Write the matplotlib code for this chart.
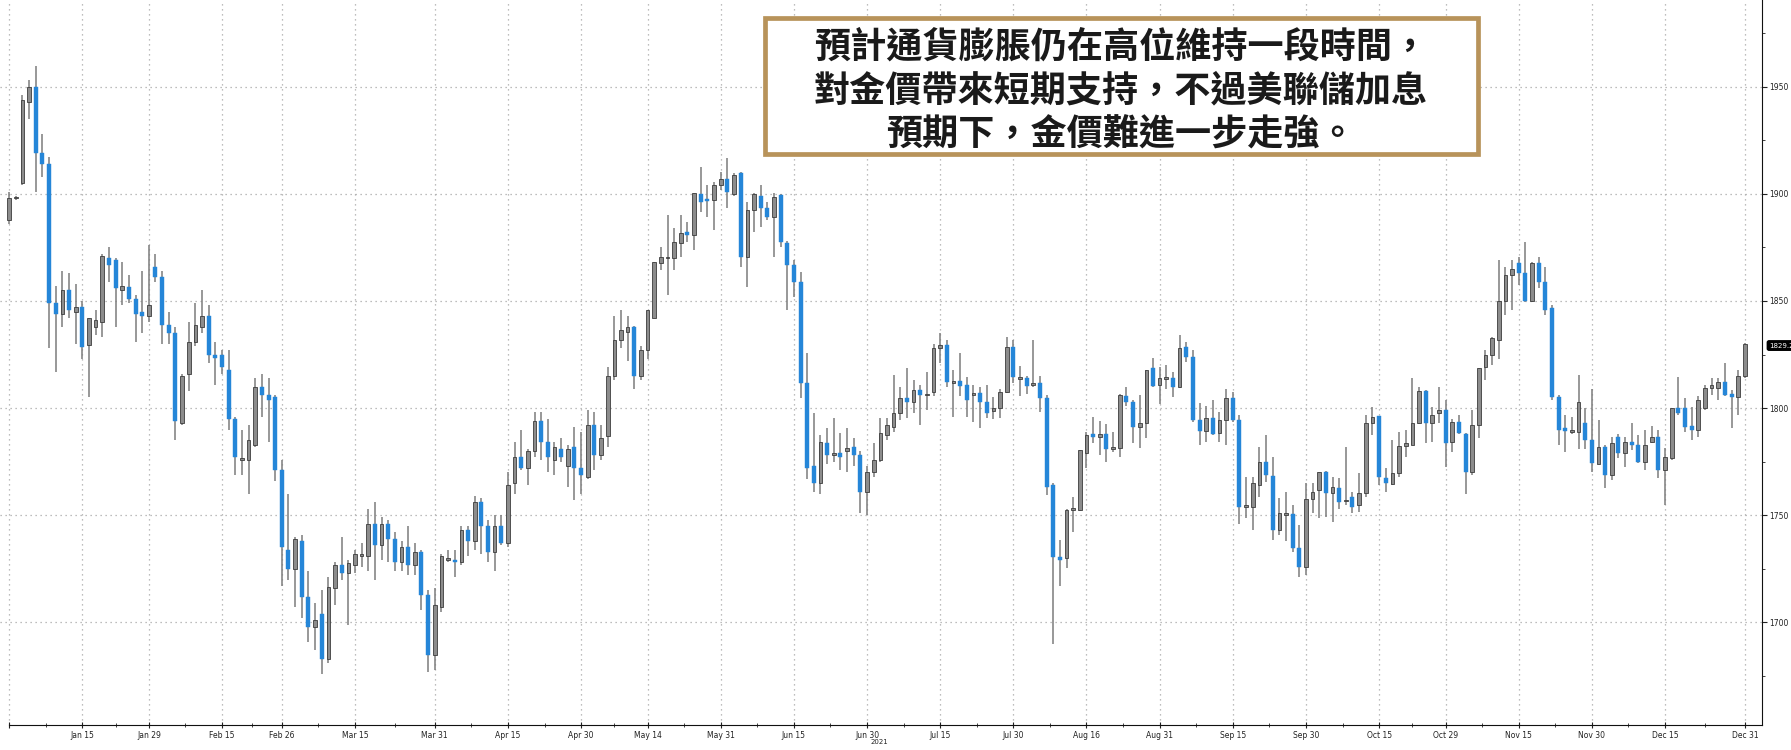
import numpy as np
import pandas as pd
import matplotlib
matplotlib.use("Agg")
import matplotlib.pyplot as plt
from matplotlib.patches import Rectangle
from matplotlib import transforms

# 交易日 (weekdays, 2020-12-31 .. 2021-12-31)
dates = pd.bdate_range("2020-12-31", "2021-12-31")

# OHLC, one block per month
opens = [
    1888, 1898, 1905, 1943, 1950, 1919, 1914, 1849, 1844, 1855, 1845, 1847, 1829.5, 1838, 1840, 1870, 1869, 1855, 1856.6, 1851, 1845, 1843,
    1866, 1861, 1839, 1835, 1793, 1816, 1831, 1838, 1843, 1825, 1825, 1818, 1795, 1776, 1776, 1783, 1810, 1806, 1805, 1771,
    1734, 1725, 1738, 1712, 1698, 1704, 1683, 1716, 1727, 1723, 1727, 1731, 1731, 1746, 1736, 1746, 1739, 1728, 1735, 1727, 1733, 1713, 1685,
    1707, 1729, 1729, 1728, 1743, 1738, 1756, 1745, 1733, 1745, 1737, 1765, 1777, 1772, 1780, 1794, 1784, 1776, 1781, 1773, 1782, 1772,
    1768, 1792, 1778, 1787, 1815, 1831.7, 1835.6, 1838, 1815, 1827, 1842, 1867.6, 1870, 1870, 1877, 1882, 1881, 1900, 1897.5, 1897, 1904,
    1906.8, 1900, 1909.6, 1870.6, 1892.4, 1899, 1893.4, 1889, 1899.4, 1877, 1866.7, 1859, 1811.6, 1773, 1765, 1783.6, 1778, 1779, 1780, 1782, 1778, 1761,
    1770, 1775.8, 1787.4, 1791, 1797.6, 1804.6, 1803, 1808.4, 1806, 1807.6, 1828, 1829.4, 1812, 1812.7, 1810.8, 1806, 1807, 1803, 1798.5, 1800, 1807.6, 1828.6,
    1813.5, 1814, 1811, 1811.8, 1804.6, 1764, 1730.6, 1730, 1752.5, 1752.5, 1779, 1788, 1786.6, 1788, 1781, 1781.3, 1805.6, 1803, 1791, 1793, 1818.6, 1810.8,
    1814, 1814, 1809.9, 1828.6, 1824, 1794.5, 1789.5, 1795.4, 1788.3, 1794.5, 1804.6, 1794.5, 1754, 1754, 1764, 1775, 1768.3, 1743, 1750.3, 1750.6, 1734.6, 1726,
    1757.5, 1761.7, 1770, 1760.4, 1762.6, 1756.5, 1758.5, 1754.7, 1760.4, 1793, 1796.3, 1767.5, 1764.6, 1769.7, 1782.3, 1783, 1793, 1808, 1793, 1797.6, 1799,
    1784.3, 1793.6, 1788, 1770, 1792, 1819, 1824.7, 1831.7, 1850, 1862, 1867.6, 1863, 1850, 1867.6, 1859, 1846.7, 1805, 1790.5, 1789, 1789, 1793, 1785,
    1774, 1782, 1768.7, 1786.6, 1779, 1784.3, 1783, 1775, 1784.3, 1786.6, 1771, 1776.6, 1800, 1800, 1791.6, 1790, 1800, 1809.3, 1809.3, 1812, 1806.5, 1805, 1815,
]
highs = [
    1901, 1899, 1946, 1953, 1959.5, 1928, 1917, 1857, 1864, 1863, 1858, 1850, 1842, 1846, 1872, 1875, 1870, 1868, 1862, 1853, 1864, 1876,
    1872, 1864, 1845, 1838, 1816, 1840, 1849, 1855, 1848, 1831, 1827, 1827, 1796, 1790, 1792, 1814, 1816, 1814, 1806, 1776,
    1760, 1740, 1741, 1724, 1709, 1715, 1721, 1728, 1740, 1729, 1734, 1737, 1753, 1756, 1749, 1748, 1742, 1738, 1745, 1737, 1734, 1715, 1716,
    1732, 1734, 1734, 1745, 1745, 1759, 1758, 1748, 1750, 1750, 1770, 1784, 1790, 1781, 1798, 1798, 1795, 1784, 1786, 1783, 1791, 1789,
    1799, 1798, 1792, 1819, 1843, 1846, 1843, 1838.5, 1829, 1846, 1868, 1875, 1890, 1884, 1890, 1887, 1900.3, 1912.6, 1904, 1905.5, 1910,
    1916.6, 1909.6, 1910, 1896, 1900.5, 1904, 1896, 1900.3, 1900, 1878, 1869, 1863.6, 1825.6, 1797.6, 1787.5, 1790.6, 1795.3, 1788.4, 1790.6, 1786, 1780, 1773,
    1783.6, 1795.5, 1795.5, 1815.5, 1810, 1818.6, 1813, 1811, 1817, 1830, 1835, 1832, 1817.7, 1825.6, 1814.6, 1811, 1810, 1811, 1805, 1809, 1833, 1831.7,
    1819.6, 1815, 1832, 1815, 1806, 1765, 1738.4, 1753, 1758.6, 1780.5, 1789, 1795.9, 1794, 1792.6, 1789, 1806.5, 1810, 1804, 1806, 1818, 1823.4, 1819,
    1820, 1817, 1834, 1831, 1827, 1802.2, 1801, 1804, 1798, 1808.7, 1807.5, 1797, 1768, 1768, 1782, 1787.5, 1777, 1758, 1761, 1754.7, 1745.4, 1765,
    1765, 1770, 1770.5, 1768, 1767.4, 1782, 1761, 1769.6, 1796.8, 1800.6, 1796.3, 1772, 1785, 1789, 1789.7, 1814, 1810, 1808.5, 1800.6, 1810, 1803.8,
    1795, 1797, 1788.5, 1799, 1818.5, 1827, 1833, 1869, 1866, 1869, 1870.6, 1877.6, 1868, 1870.6, 1866, 1848, 1806, 1797, 1796, 1815.5, 1800, 1809,
    1794.5, 1783, 1786.5, 1788, 1786.5, 1793, 1787.6, 1789.7, 1791.6, 1789.7, 1781.3, 1800, 1814.5, 1804.6, 1800.6, 1805.5, 1810.8, 1814, 1814, 1821, 1808.5, 1818, 1830.5,
]
lows = [
    1886, 1897, 1904, 1935, 1901, 1908, 1828, 1817, 1838, 1842, 1830, 1823, 1805, 1834, 1833, 1859, 1838, 1848, 1849, 1831, 1835, 1840,
    1859, 1830, 1830, 1785, 1792, 1808, 1829, 1835, 1821, 1811, 1816, 1790, 1769, 1769, 1760, 1782, 1796, 1784, 1766, 1717,
    1720, 1707, 1702, 1691, 1687, 1676, 1681, 1708, 1720, 1699, 1723, 1726, 1724, 1720, 1729, 1728, 1724, 1724, 1722, 1722, 1706, 1677, 1678,
    1705, 1728, 1721, 1727, 1731, 1734, 1732, 1728, 1724, 1736, 1735, 1760, 1771, 1764, 1777, 1776, 1770, 1769, 1775, 1763, 1757, 1760,
    1767, 1771, 1776, 1782, 1813, 1828, 1822, 1809, 1813, 1823, 1842, 1864.5, 1853, 1864.5, 1870.6, 1877.5, 1874, 1891.5, 1889, 1883, 1902,
    1893.4, 1899, 1866, 1856.5, 1882, 1884.6, 1887.8, 1870.6, 1875, 1845.8, 1852, 1804.6, 1767, 1761, 1760, 1774, 1775, 1771, 1770, 1773, 1751, 1750,
    1768, 1775, 1785, 1789, 1794.5, 1795.4, 1797.6, 1792, 1799, 1805.5, 1821, 1809.8, 1796, 1805.5, 1796, 1793.6, 1790.6, 1795.5, 1795, 1795.4, 1807, 1811.8,
    1805.5, 1806.5, 1810, 1798, 1759.4, 1690, 1717, 1725.4, 1742, 1752, 1772, 1783.6, 1778, 1775, 1779.5, 1777, 1801, 1783.6, 1781.3, 1786, 1810, 1802,
    1809, 1805, 1809.5, 1821.6, 1793.5, 1783, 1784.3, 1787.5, 1784.3, 1782.6, 1793.5, 1746, 1748.7, 1743, 1758.6, 1765.5, 1738.4, 1741, 1738, 1733, 1721, 1722,
    1751, 1748.6, 1749.3, 1747, 1752.8, 1755, 1751, 1751.5, 1758.5, 1787.5, 1764, 1761, 1764, 1768, 1777, 1783, 1792.5, 1783.6, 1784, 1793, 1772.5,
    1779.6, 1788, 1760, 1769, 1786, 1813, 1820, 1823, 1843.4, 1845.8, 1857.5, 1849.5, 1849.5, 1855.9, 1843.4, 1804, 1783, 1779.6, 1788, 1781, 1781, 1770,
    1774, 1762.7, 1766.4, 1776.6, 1772.6, 1780.5, 1774.5, 1771, 1783.5, 1767.4, 1754.7, 1776, 1797, 1789, 1785, 1786.5, 1799, 1806, 1803.8, 1805.5, 1790.7, 1796.6, 1814,
]
closes = [
    1898, 1898.5, 1944, 1950, 1919, 1914, 1849, 1844, 1855, 1846, 1847, 1828.5, 1842, 1841, 1871, 1867, 1856, 1857, 1851, 1844, 1843, 1848,
    1861, 1839, 1835, 1794, 1815, 1831, 1839, 1843, 1825, 1823.5, 1819, 1795, 1777, 1776.5, 1785, 1810, 1806, 1804, 1771, 1735,
    1725, 1739, 1712, 1698, 1701, 1683, 1716.5, 1727, 1723, 1727.5, 1732, 1732, 1746, 1736, 1746, 1739, 1728, 1735, 1727, 1733, 1713, 1685, 1708,
    1731, 1730, 1728, 1743, 1738, 1756, 1745, 1733, 1745, 1737, 1764, 1777, 1772, 1780, 1794, 1784, 1777, 1782, 1777, 1781, 1772, 1769,
    1792, 1778, 1786, 1815, 1831.7, 1836.5, 1838, 1815, 1827, 1845.7, 1868, 1870.6, 1870.5, 1877.5, 1881.6, 1881, 1900.3, 1896.2, 1897, 1904, 1906.8,
    1900.8, 1908.8, 1870.6, 1892.4, 1900, 1893.4, 1889, 1898.6, 1877.5, 1866.7, 1859, 1811.6, 1772, 1765, 1784, 1778, 1779, 1777, 1781.5, 1778, 1761, 1770,
    1776, 1788.4, 1792, 1797.6, 1804.6, 1803, 1808.4, 1806, 1806.8, 1828, 1829.4, 1812, 1812.3, 1810.3, 1804, 1807, 1803, 1797.6, 1800, 1807.6, 1828.6, 1814.6,
    1814.4, 1810.3, 1811.8, 1804.6, 1763.4, 1730.6, 1729, 1752.5, 1753, 1780.5, 1787.4, 1786.6, 1788, 1781, 1781.5, 1806, 1803, 1791, 1793, 1817.7, 1810.3, 1814,
    1814.2, 1809.9, 1828, 1824, 1794.5, 1789.5, 1795.4, 1788, 1794.5, 1804.6, 1794.5, 1754, 1754.6, 1765, 1775, 1768.8, 1743, 1751, 1750.8, 1734.6, 1726, 1757.5,
    1761, 1770, 1760.3, 1763, 1756, 1757.3, 1754, 1760.4, 1793, 1796, 1768, 1765, 1769.6, 1782.3, 1783.6, 1793, 1808, 1793, 1796.8, 1799, 1783.6,
    1793.6, 1788.3, 1770, 1792, 1818.5, 1824.7, 1832.6, 1850, 1862, 1865, 1863, 1850, 1867.6, 1859, 1845.8, 1805, 1789.7, 1789.5, 1789.3, 1803, 1785, 1774.3,
    1782, 1768.8, 1783.6, 1779, 1784.3, 1783, 1775, 1783, 1786.6, 1771, 1777, 1800, 1797.6, 1791.4, 1790, 1803.8, 1809.3, 1810.8, 1812, 1806, 1805, 1815, 1830,
]

tick_dates = ["2021-01-15", "2021-01-29", "2021-02-15", "2021-02-26", "2021-03-15", "2021-03-31",
              "2021-04-15", "2021-04-30", "2021-05-14", "2021-05-31", "2021-06-15", "2021-06-30",
              "2021-07-15", "2021-07-30", "2021-08-16", "2021-08-31", "2021-09-15", "2021-09-30",
              "2021-10-15", "2021-10-29", "2021-11-15", "2021-11-30", "2021-12-15", "2021-12-31"]
tick_labels = ["Jan 15", "Jan 29", "Feb 15", "Feb 26", "Mar 15", "Mar 31", "Apr 15", "Apr 30",
               "May 14", "May 31", "Jun 15", "Jun 30", "Jul 15", "Jul 30", "Aug 16", "Aug 31",
               "Sep 15", "Sep 30", "Oct 15", "Oct 29", "Nov 15", "Nov 30", "Dec 15", "Dec 31"]
y_ticks = [1700, 1750, 1800, 1850, 1900, 1950]
last_price = "1829.2"

note_lines = ["預計通貨膨脹仍在高位維持一段時間，",
              "對金價帶來短期支持，不過美聯儲加息",
              "預期下，金價難進一步走強。"]

plt.rcParams["font.family"] = ["DejaVu Sans"]

o = np.array(opens, dtype=float)
h = np.array(highs, dtype=float)
l = np.array(lows, dtype=float)
c = np.array(closes, dtype=float)
x = np.arange(len(dates))

fig = plt.figure(figsize=(17.91, 7.5), dpi=100)
ax = fig.add_axes([0, 25 / 750, 1762 / 1791, 725 / 750])

# 燭台
down = c < o
raw_h = np.abs(c - o)
body_h = np.maximum(raw_h, 0.8)
body_b = np.minimum(o, c) - (body_h - raw_h) / 2

ax.vlines(x, l, h, color="#7c7c7c", linewidth=1.1, zorder=2)
ax.bar(x[down], body_h[down], bottom=body_b[down], width=0.6,
       color="#2586d8", edgecolor="#2586d8", linewidth=0.3, zorder=3)
ax.bar(x[~down], body_h[~down], bottom=body_b[~down], width=0.55,
       color="#8c8c8c", edgecolor="#3c3c3c", linewidth=0.6, zorder=3)

# 軸
ax.set_xlim(-1.38, 263.58)
ax.set_ylim(1652.1, 1990.46)

tick_idx = [dates.get_loc(pd.Timestamp(d)) for d in tick_dates]
major = [0] + tick_idx
ax.set_xticks(major)
ax.set_xticklabels([""] + tick_labels)
minor = [(a + b) / 2 for a, b in zip(major[:-1], major[1:])]
ax.set_xticks(minor, minor=True)

ax.yaxis.tick_right()
ax.set_yticks(y_ticks)
ax.set_yticks([v + 25 for v in [1650] + y_ticks], minor=True)

ax.tick_params(axis="x", which="major", direction="inout", length=5, width=0.8,
               labelsize=5.5, pad=1.5, colors="#222222")
ax.tick_params(axis="x", which="minor", direction="inout", length=3, width=0.6, colors="#222222")
ax.tick_params(axis="y", which="major", direction="out", length=3.5, width=0.8,
               labelsize=5.5, pad=1.5, colors="#222222")
ax.tick_params(axis="y", which="minor", direction="out", length=2, width=0.6, colors="#222222")

for s in ["top", "left"]:
    ax.spines[s].set_visible(False)
ax.spines["right"].set_color("#111111")
ax.spines["bottom"].set_color("#111111")
ax.spines["bottom"].set_bounds(0, 263.58)

ax.set_axisbelow(True)
ax.grid(True, which="major", linestyle=(0, (1, 3)), color="#a8a8a8", linewidth=0.9)

ax.text(130.8, -0.0195, "2021", transform=ax.get_xaxis_transform(),
        ha="center", va="top", fontsize=5, color="#222222")

# 最新價
tr = transforms.blended_transform_factory(ax.transAxes, ax.transData)
ax.text(1.004, float(last_price), last_price, transform=tr, ha="left", va="center",
        fontsize=5, color="white", clip_on=False,
        bbox=dict(boxstyle="round,pad=0.25", fc="black", ec="black"))

# 註解框
fig.add_artist(Rectangle((765 / 1791, 1 - 154 / 750), 713 / 1791, 136 / 750,
                         transform=fig.transFigure, facecolor="white",
                         edgecolor="#b8935a", linewidth=3.4, zorder=10))
for k, line in enumerate(note_lines):
    fig.text(1121 / 1791, 1 - (47 + 44 * k) / 750, line, ha="center", va="center",
             fontsize=26, fontweight="bold", color="#1a1a1a",
             family=["Noto Sans CJK TC", "DejaVu Sans"], zorder=11)

fig.savefig("out.png", dpi=100)
